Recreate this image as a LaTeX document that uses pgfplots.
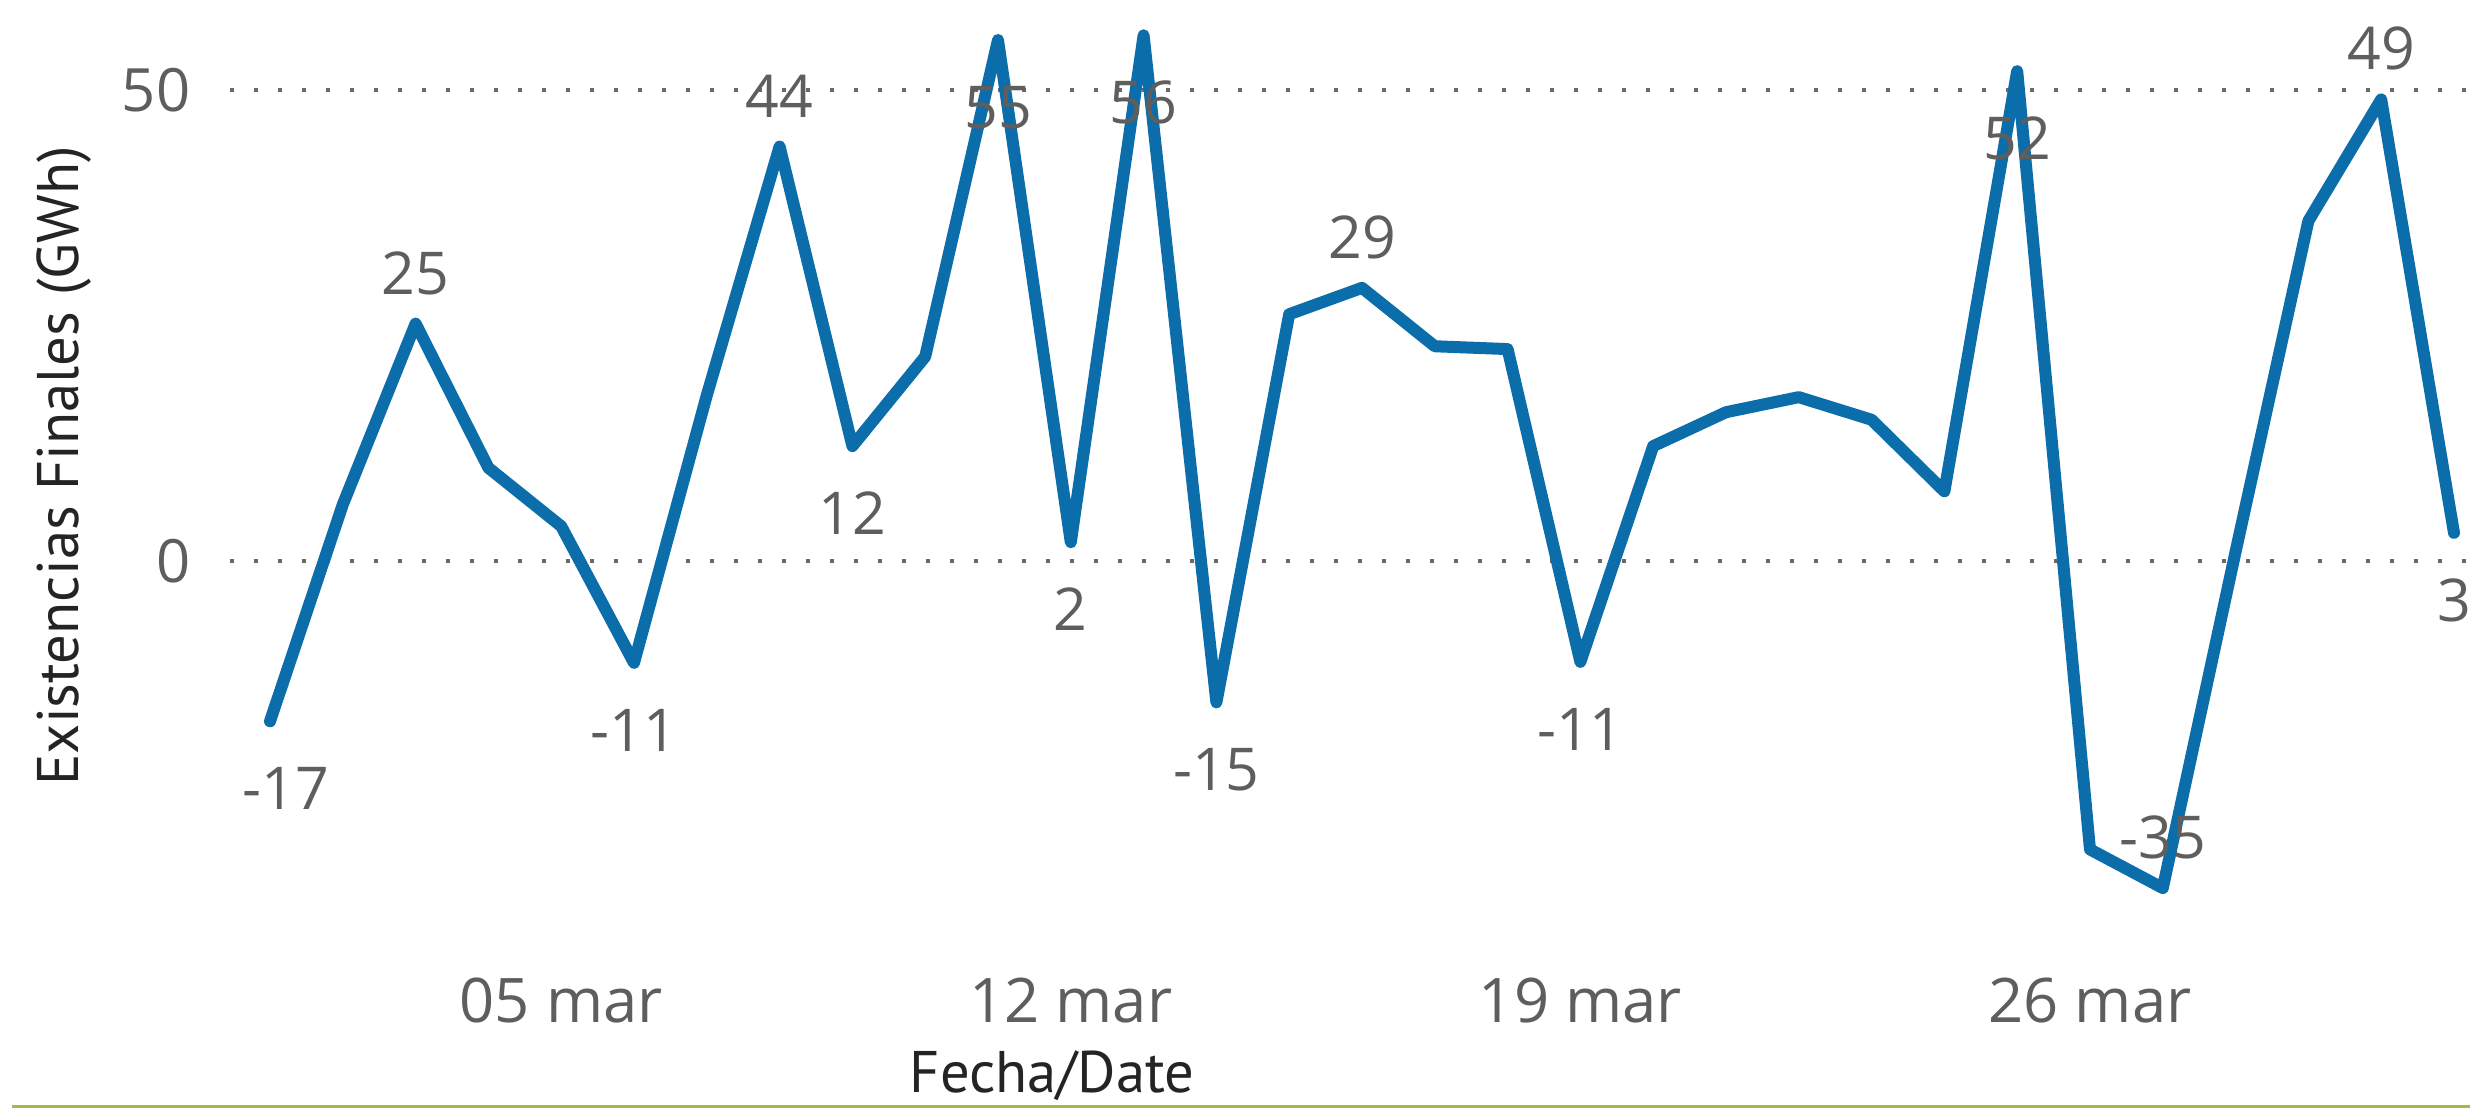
\documentclass[border=0pt]{standalone}
\usepackage{fontspec}
\setmainfont{Open Sans}
\newfontfamily\dinfont{PT Sans}
\usepackage{pgfplots}
\pgfplotsset{compat=1.18}
\definecolor{lineblue}{HTML}{0B6DAA}
\definecolor{lblgray}{HTML}{605E5C}
\definecolor{titlegray}{HTML}{252423}
\definecolor{gridgray}{HTML}{6A6A6A}
\definecolor{barolive}{HTML}{A3BA45}
\begin{document}
\begin{tikzpicture}
\useasboundingbox (0,0) rectangle (247mm,110.8mm);
\begin{axis}[
  at={(23mm,17mm)}, anchor=south west,
  width=224mm, height=93.8mm, scale only axis,
  xmin=0.4505, xmax=31.22, ymin=-40, ymax=59.55,
  clip=false,
  axis line style={draw=none},
  tick style={draw=none},
  xtick={5,12,19,26}, xticklabels={05 mar,12 mar,19 mar,26 mar},
  ytick={0,50}, yticklabels={0,50},
  xticklabel style={anchor=base, inner sep=0pt, yshift=-8.4mm, font=\fontsize{17.5}{20}\selectfont, text=lblgray},
  yticklabel style={anchor=east, inner sep=0pt, xshift=-3.9mm, font=\fontsize{17}{20}\selectfont, text=lblgray},
  ymajorgrids,
  major grid style={gridgray, line width=0.4mm, dash pattern=on 0.4mm off 2mm},
]
\addplot[lineblue, line width=1.2mm, line join=round, line cap=round, mark=none] coordinates {
(1,-17.0) (2,6.0) (3,25.2) (4,9.9) (5,3.7) (6,-10.8) (7,17.6) (8,44.0) (9,12.2) (10,21.7)
(11,55.3) (12,2.0) (13,55.8) (14,-15.0) (15,26.2) (16,29.0) (17,22.8) (18,22.5) (19,-10.7) (20,12.2)
(21,15.8) (22,17.4) (23,15.0) (24,7.4) (25,52.0) (26,-30.6) (27,-34.7) (28,1.0) (29,36.1) (30,49.0)
(31,3.0)};
\addplot[draw=none, mark=none, nodes near coords, point meta=explicit symbolic,
  nodes near coords style={anchor=base, yshift=2.95mm, font=\fontsize{16.8}{20}\selectfont, text=lblgray}]
  coordinates {(3,25.2)[25] (8,44.0)[44] (16,29.0)[29] (27,-34.7)[-35] (30,49.0)[49]};
\addplot[draw=none, mark=none, nodes near coords, point meta=explicit symbolic,
  nodes near coords style={anchor=base, yshift=-8.85mm, font=\fontsize{16.8}{20}\selectfont, text=lblgray}]
  coordinates {(6,-10.8)[-11] (9,12.2)[12] (11,55.3)[55] (12,2.0)[2] (13,55.8)[56] (14,-15.0)[-15] (19,-10.7)[-11] (25,52.0)[52] (31,3.0)[3]};
\addplot[draw=none, mark=none, nodes near coords, point meta=explicit symbolic,
  nodes near coords style={anchor=base, yshift=-8.85mm, xshift=1.6mm, font=\fontsize{16.8}{20}\selectfont, text=lblgray}]
  coordinates {(1,-17.0)[-17]};
\end{axis}
\node[rotate=90, inner sep=0pt, font=\dinfont\fontsize{16.7}{19}\selectfont, text=titlegray] at (6.45mm,64.2mm) {Existencias Finales (GWh)};
\node[anchor=base, inner sep=0pt, font=\dinfont\fontsize{16.7}{19}\selectfont, text=titlegray] at (105.2mm,1.6mm) {Fecha/Date};
\draw[barolive, line width=0.3mm] (1.2mm,0.15mm) -- (247mm,0.15mm);
\end{tikzpicture}
\end{document}
